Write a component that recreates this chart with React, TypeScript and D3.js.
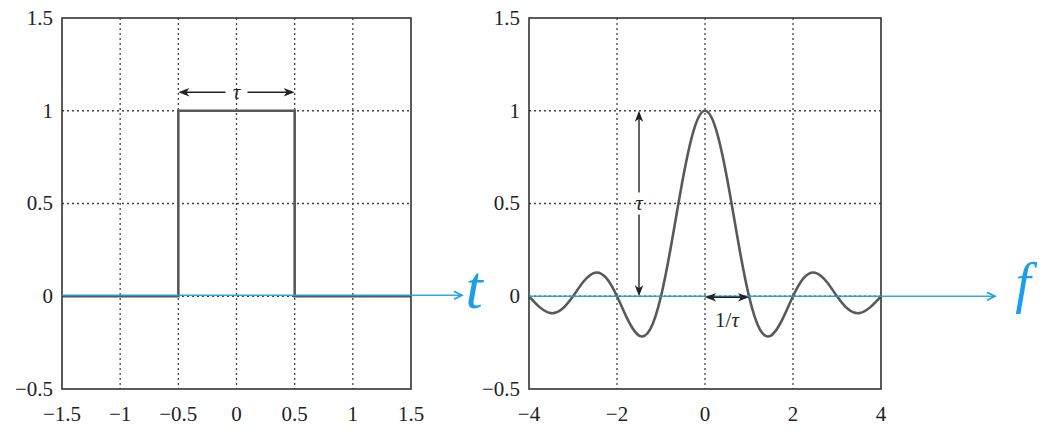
import React from "react";
import * as d3 from "d3";

const yTicks = [-0.5, 0, 0.5, 1, 1.5];
const yTickLabels = ["−0.5", "0", "0.5", "1", "1.5"];
const yGrid = [0, 0.5, 1];

const leftXTicks = [-1.5, -1, -0.5, 0, 0.5, 1, 1.5];
const leftXTickLabels = ["−1.5", "−1", "−0.5", "0", "0.5", "1", "1.5"];
const leftXGrid = [-1, -0.5, 0, 0.5, 1];

const rectT = [-1.5, -0.5, -0.5, 0.5, 0.5, 1.5];
const rectV = [0, 0, 1, 1, 0, 0];

const rightXTicks = [-4, -2, 0, 2, 4];
const rightXTickLabels = ["−4", "−2", "0", "2", "4"];
const rightXGrid = [-2, 0, 2];

const sincF = [-4, -3.75, -3.5, -3.25, -3, -2.75, -2.5, -2.25, -2, -1.75, -1.5, -1.25, -1, -0.75, -0.5, -0.25, 0,
  0.25, 0.5, 0.75, 1, 1.25, 1.5, 1.75, 2, 2.25, 2.5, 2.75, 3, 3.25, 3.5, 3.75, 4];
const sincV = [0, -0.06, -0.091, -0.069, 0, 0.082, 0.127, 0.1, 0, -0.129, -0.212, -0.18, 0, 0.3, 0.637, 0.9, 1,
  0.9, 0.637, 0.3, 0, -0.18, -0.212, -0.129, 0, 0.1, 0.127, 0.082, 0, -0.069, -0.091, -0.06, 0];

const TOP = 18;
const BOTTOM = 389;
const GRAY = "#595959";
const BLUE = "#1a9fe8";
const FONT = "Liberation Serif, Times New Roman, serif";

const yScale = d3.scaleLinear().domain([-0.5, 1.5]).range([BOTTOM, TOP]);

function arrowHead(x: number, y: number, dir: "l" | "r" | "u" | "d", key: string) {
  const L = 11, W = 4.2, N = 3;
  let p = "";
  if (dir === "r") p = `M${x},${y} L${x - L},${y - W} L${x - L + N},${y} L${x - L},${y + W} Z`;
  if (dir === "l") p = `M${x},${y} L${x + L},${y - W} L${x + L - N},${y} L${x + L},${y + W} Z`;
  if (dir === "u") p = `M${x},${y} L${x - W},${y + L} L${x},${y + L - N} L${x + W},${y + L} Z`;
  if (dir === "d") p = `M${x},${y} L${x - W},${y - L} L${x},${y - L + N} L${x + W},${y - L} Z`;
  return <path key={key} d={p} fill="#222" />;
}

function Panel({ x0, x1, domain, xTicks, xLabels, xGrid, lineX, lineY, curve }: any) {
  const xs = d3.scaleLinear().domain(domain).range([x0, x1]);
  const line = d3.line<number>().x((_, i) => xs(lineX[i])).y((d) => yScale(d)).curve(curve);
  return (
    <g>
      {xGrid.map((g: number) => (
        <line key={"gx" + g} x1={xs(g)} x2={xs(g)} y1={TOP} y2={BOTTOM} stroke="#444" strokeWidth={1.3} strokeDasharray="2,3" />
      ))}
      {yGrid.map((g: number) => (
        <line key={"gy" + g} x1={x0} x2={x1} y1={yScale(g)} y2={yScale(g)} stroke="#444" strokeWidth={1.3} strokeDasharray="2,3" />
      ))}
      <path d={line(lineY) || ""} fill="none" stroke={GRAY} strokeWidth={2.6} />
      <rect x={x0} y={TOP} width={x1 - x0} height={BOTTOM - TOP} fill="none" stroke="#333" strokeWidth={1.6} />
      {yTicks.map((t, i) => (
        <text key={"yl" + t} x={x0 - 9} y={yScale(t)} dy="0.33em" textAnchor="end" fontFamily={FONT} fontSize={21} fill="#222">
          {yTickLabels[i]}
        </text>
      ))}
      {xTicks.map((t: number, i: number) => (
        <text key={"xl" + t} x={xs(t)} y={BOTTOM + 25} dy="0.33em" textAnchor="middle" fontFamily={FONT} fontSize={21} fill="#222">
          {xLabels[i]}
        </text>
      ))}
    </g>
  );
}

export default function App() {
  const xl = d3.scaleLinear().domain([-1.5, 1.5]).range([62, 411]);
  const xr = d3.scaleLinear().domain([-4, 4]).range([529, 881]);
  const y0 = yScale(0);
  const tauY = yScale(1.1);
  return (
    <svg width={1044} height={434} style={{ position: "absolute", left: 0, top: 0, background: "#fff" }}>
      <Panel x0={62} x1={411} domain={[-1.5, 1.5]} xTicks={leftXTicks} xLabels={leftXTickLabels} xGrid={leftXGrid}
        lineX={rectT} lineY={rectV} curve={d3.curveLinear} />
      <Panel x0={529} x1={881} domain={[-4, 4]} xTicks={rightXTicks} xLabels={rightXTickLabels} xGrid={rightXGrid}
        lineX={sincF} lineY={sincV} curve={d3.curveNatural} />

      {/* left tau arrow */}
      <line x1={xl(-0.5) + 3} x2={xl(0) - 11} y1={tauY} y2={tauY} stroke="#222" strokeWidth={1.4} />
      <line x1={xl(0) + 11} x2={xl(0.5) - 3} y1={tauY} y2={tauY} stroke="#222" strokeWidth={1.4} />
      {arrowHead(xl(-0.5), tauY, "l", "a1")}
      {arrowHead(xl(0.5), tauY, "r", "a2")}
      <text x={xl(0)} y={tauY} dy="0.3em" textAnchor="middle" fontFamily={FONT} fontStyle="italic" fontSize={21} fill="#222">τ</text>

      {/* right vertical tau arrow */}
      <line x1={xr(-1.5)} x2={xr(-1.5)} y1={yScale(1) + 3} y2={yScale(0.5) - 11} stroke="#222" strokeWidth={1.4} />
      <line x1={xr(-1.5)} x2={xr(-1.5)} y1={yScale(0.5) + 11} y2={y0 - 3} stroke="#222" strokeWidth={1.4} />
      {arrowHead(xr(-1.5), yScale(1), "u", "a3")}
      {arrowHead(xr(-1.5), y0, "d", "a4")}
      <text x={xr(-1.5)} y={yScale(0.5)} dy="0.3em" textAnchor="middle" fontFamily={FONT} fontStyle="italic" fontSize={21} fill="#222">τ</text>

      {/* blue axes */}
      <line x1={62} x2={462} y1={y0 - 1} y2={y0 - 1} stroke={BLUE} strokeWidth={1.6} opacity={0.9} />
      <path d={`M${454},${y0 - 5} L${462},${y0 - 1} L${454},${y0 + 3}`} fill="none" stroke={BLUE} strokeWidth={1.6} />
      <text x={474} y={y0 + 12} textAnchor="middle" fontFamily={FONT} fontStyle="italic" fontSize={62} fill={BLUE}>t</text>

      <line x1={529} x2={995} y1={y0} y2={y0} stroke={BLUE} strokeWidth={1.6} opacity={0.9} />
      <path d={`M${987},${y0 - 4} L${995},${y0} L${987},${y0 + 4}`} fill="none" stroke={BLUE} strokeWidth={1.6} />
      <text x={1023} y={y0 + 6} textAnchor="middle" fontFamily={FONT} fontStyle="italic" fontSize={56} fill={BLUE}>f</text>

      {/* 1/tau arrow */}
      <line x1={xr(0) + 3} x2={xr(1) - 3} y1={y0 + 1} y2={y0 + 1} stroke="#222" strokeWidth={1.4} />
      {arrowHead(xr(0), y0 + 1, "l", "a5")}
      {arrowHead(xr(1), y0 + 1, "r", "a6")}
      <text x={xr(0.5)} y={y0 + 24} dy="0.3em" textAnchor="middle" fontFamily={FONT} fontSize={21} fill="#222">
        1/<tspan fontStyle="italic">τ</tspan>
      </text>
    </svg>
  );
}
